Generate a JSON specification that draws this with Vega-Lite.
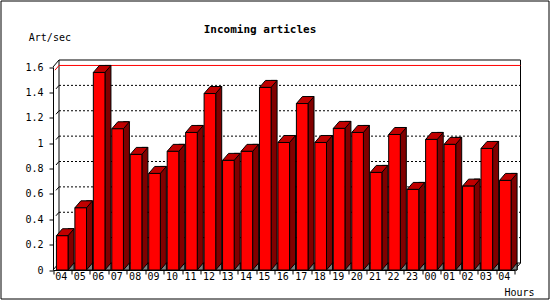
{
  "$schema": "https://vega.github.io/schema/vega-lite/v6.json",
  "width": 548,
  "height": 298,
  "autosize": {"type": "none"},
  "padding": {"left": 0.5, "top": 0.5, "right": 1.5, "bottom": 1.5},
  "background": "white",
  "title": {"text": "Incoming articles", "font": "DejaVu Sans Mono", "fontSize": 11, "fontWeight": "bold", "color": "black", "anchor": "middle", "dx": -14.5, "offset": -34},
  "config": {
    "view": {"stroke": "black", "strokeWidth": 1, "fill": "white"},
    "axis": {"labelFont": "DejaVu Sans Mono", "labelFontSize": 10, "labelColor": "black", "titleFont": "DejaVu Sans Mono", "titleFontSize": 10, "titleFontWeight": "normal", "titleColor": "black", "domainColor": "black", "tickColor": "black", "grid": false, "labelOverlap": false}
  },
  "datasets": {
    "rates": [
      {"hour": "d1 04", "v": 0.27},
      {"hour": "d1 05", "v": 0.49},
      {"hour": "d1 06", "v": 1.557},
      {"hour": "d1 07", "v": 1.113},
      {"hour": "d1 08", "v": 0.911},
      {"hour": "d1 09", "v": 0.761},
      {"hour": "d1 10", "v": 0.935},
      {"hour": "d1 11", "v": 1.084},
      {"hour": "d1 12", "v": 1.391},
      {"hour": "d1 13", "v": 0.864},
      {"hour": "d1 14", "v": 0.935},
      {"hour": "d1 15", "v": 1.439},
      {"hour": "d1 16", "v": 1.005},
      {"hour": "d1 17", "v": 1.312},
      {"hour": "d1 18", "v": 1.005},
      {"hour": "d1 19", "v": 1.116},
      {"hour": "d1 20", "v": 1.084},
      {"hour": "d1 21", "v": 0.769},
      {"hour": "d1 22", "v": 1.068},
      {"hour": "d1 23", "v": 0.635},
      {"hour": "d2 00", "v": 1.029},
      {"hour": "d2 01", "v": 0.99},
      {"hour": "d2 02", "v": 0.661},
      {"hour": "d2 03", "v": 0.958},
      {"hour": "d2 04", "v": 0.706}
    ],
    "grid": [{"level": 0.2}, {"level": 0.4}, {"level": 0.6}, {"level": 0.8}, {"level": 1.0}, {"level": 1.2}, {"level": 1.4}],
    "frame": [{"level": 0}, {"level": 1.6}]
  },
  "data": {"name": "rates"},
  "layer": [
    {
      "data": {"values": [{"plane": "back"}]},
      "mark": {"type": "rect", "fill": "white", "stroke": "black", "strokeWidth": 1, "xOffset": 6, "x2Offset": 6, "yOffset": -7, "y2Offset": -7},
      "encoding": {
        "x": {"datum": "d1 04", "type": "nominal", "bandPosition": 0, "scale": {"type": "band", "range": [52.5, 514], "paddingInner": 0, "paddingOuter": 0}},
        "x2": {"datum": "d2 04", "bandPosition": 1},
        "y": {"datum": 0, "type": "quantitative", "scale": {"domain": [0, 1.6], "range": [269.5, 66.5], "nice": false}},
        "y2": {"datum": 1.6}
      }
    },
    {
      "data": {"name": "grid"},
      "mark": {"type": "rule", "color": "black", "strokeWidth": 1, "strokeDash": [2, 2], "xOffset": 6, "x2Offset": 6, "yOffset": -7},
      "encoding": {
        "x": {"datum": "d1 04", "type": "nominal", "bandPosition": 0},
        "x2": {"datum": "d2 04", "bandPosition": 1},
        "y": {"field": "level", "type": "quantitative"}
      }
    },
    {
      "data": {"name": "grid"},
      "mark": {"type": "rule", "color": "black", "strokeWidth": 1, "xOffset": 3, "x2Offset": 6, "yOffset": -3.5, "y2Offset": -7},
      "encoding": {
        "x": {"datum": "d1 04", "type": "nominal", "bandPosition": 0},
        "x2": {"datum": "d1 04", "bandPosition": 0},
        "y": {"field": "level", "type": "quantitative"},
        "y2": {"field": "level"}
      }
    },
    {
      "data": {"name": "frame"},
      "mark": {"type": "rule", "color": "black", "strokeWidth": 1, "xOffset": 0, "x2Offset": 6, "yOffset": 0, "y2Offset": -7},
      "encoding": {
        "x": {"datum": "d1 04", "type": "nominal", "bandPosition": 0},
        "x2": {"datum": "d1 04", "bandPosition": 0},
        "y": {"field": "level", "type": "quantitative"},
        "y2": {"field": "level"}
      }
    },
    {
      "data": {"name": "frame"},
      "transform": [{"filter": "datum.level == 0"}],
      "mark": {"type": "rule", "color": "black", "strokeWidth": 1, "xOffset": 0, "x2Offset": 6, "yOffset": 0, "y2Offset": -7},
      "encoding": {
        "x": {"datum": "d2 04", "type": "nominal", "bandPosition": 1},
        "x2": {"datum": "d2 04", "bandPosition": 1},
        "y": {"field": "level", "type": "quantitative"},
        "y2": {"field": "level"}
      }
    },
    {
      "transform": [{"aggregate": [{"op": "max", "field": "v", "as": "maxv"}]}],
      "mark": {"type": "rule", "color": "red", "strokeWidth": 1, "xOffset": 6, "x2Offset": 6, "yOffset": -7},
      "encoding": {
        "x": {"datum": "d1 04", "type": "nominal", "bandPosition": 0},
        "x2": {"datum": "d2 04", "bandPosition": 1},
        "y": {"field": "maxv", "type": "quantitative"}
      }
    },
    {
      "transform": [{"aggregate": [{"op": "max", "field": "v", "as": "maxv"}]}],
      "mark": {"type": "rule", "color": "red", "strokeWidth": 1, "xOffset": 2, "x2Offset": 6, "yOffset": -2.3, "y2Offset": -7},
      "encoding": {
        "x": {"datum": "d1 04", "type": "nominal", "bandPosition": 0},
        "x2": {"datum": "d1 04", "bandPosition": 0},
        "y": {"field": "maxv", "type": "quantitative"},
        "y2": {"field": "maxv"}
      }
    },
    {
      "mark": {"type": "bar", "width": 6, "fill": "#800000", "stroke": "black", "strokeWidth": 1, "xOffset": 8.8, "yOffset": -7, "y2Offset": 0},
      "encoding": {
        "x": {"field": "hour", "type": "nominal"},
        "y": {"field": "v", "type": "quantitative", "stack": null},
        "y2": {"datum": 0}
      }
    },
    {
      "mark": {"type": "point", "filled": true, "opacity": 1, "size": 576, "fill": "#808080", "stroke": "black", "strokeWidth": 1, "shape": "M0.4833,0L0.9833,-0.5833L0.9833,0Z"},
      "encoding": {
        "x": {"field": "hour", "type": "nominal"},
        "y": {"datum": 0, "type": "quantitative"}
      }
    },
    {
      "mark": {"type": "point", "filled": true, "opacity": 1, "size": 576, "fill": "#c00000", "stroke": "black", "strokeWidth": 1, "shape": "M-0.4833,0L0.4833,0L0.9833,-0.5833L0.0167,-0.5833Z"},
      "encoding": {
        "x": {"field": "hour", "type": "nominal"},
        "y": {"field": "v", "type": "quantitative"}
      }
    },
    {
      "mark": {"type": "bar", "width": {"band": 0.63}, "fill": "#ff0000", "stroke": "black", "strokeWidth": 1},
      "encoding": {
        "x": {"field": "hour", "type": "nominal", "axis": {"offset": -28.5, "tickBand": "extent", "labelExpr": "slice(datum.label, 3)", "labelAngle": 0, "labelOverlap": false, "labelOffset": 4.6, "tickSize": 4, "labelPadding": 2, "title": "Hours", "titleX": 518.5, "titleY": 22, "titleAlign": "center", "titleBaseline": "middle"}},
        "y": {"field": "v", "type": "quantitative", "stack": null, "axis": {"tickCount": 8, "format": ".2~f", "offset": -52.5, "tickSize": 4, "labelPadding": 6, "labelOverlap": false, "labelFlush": false, "labelBound": false, "title": "Art/sec", "titleAngle": 0, "titleAlign": "left", "titleBaseline": "middle", "titleX": -24.7, "titleY": 36.5}}
      }
    }
  ]
}
